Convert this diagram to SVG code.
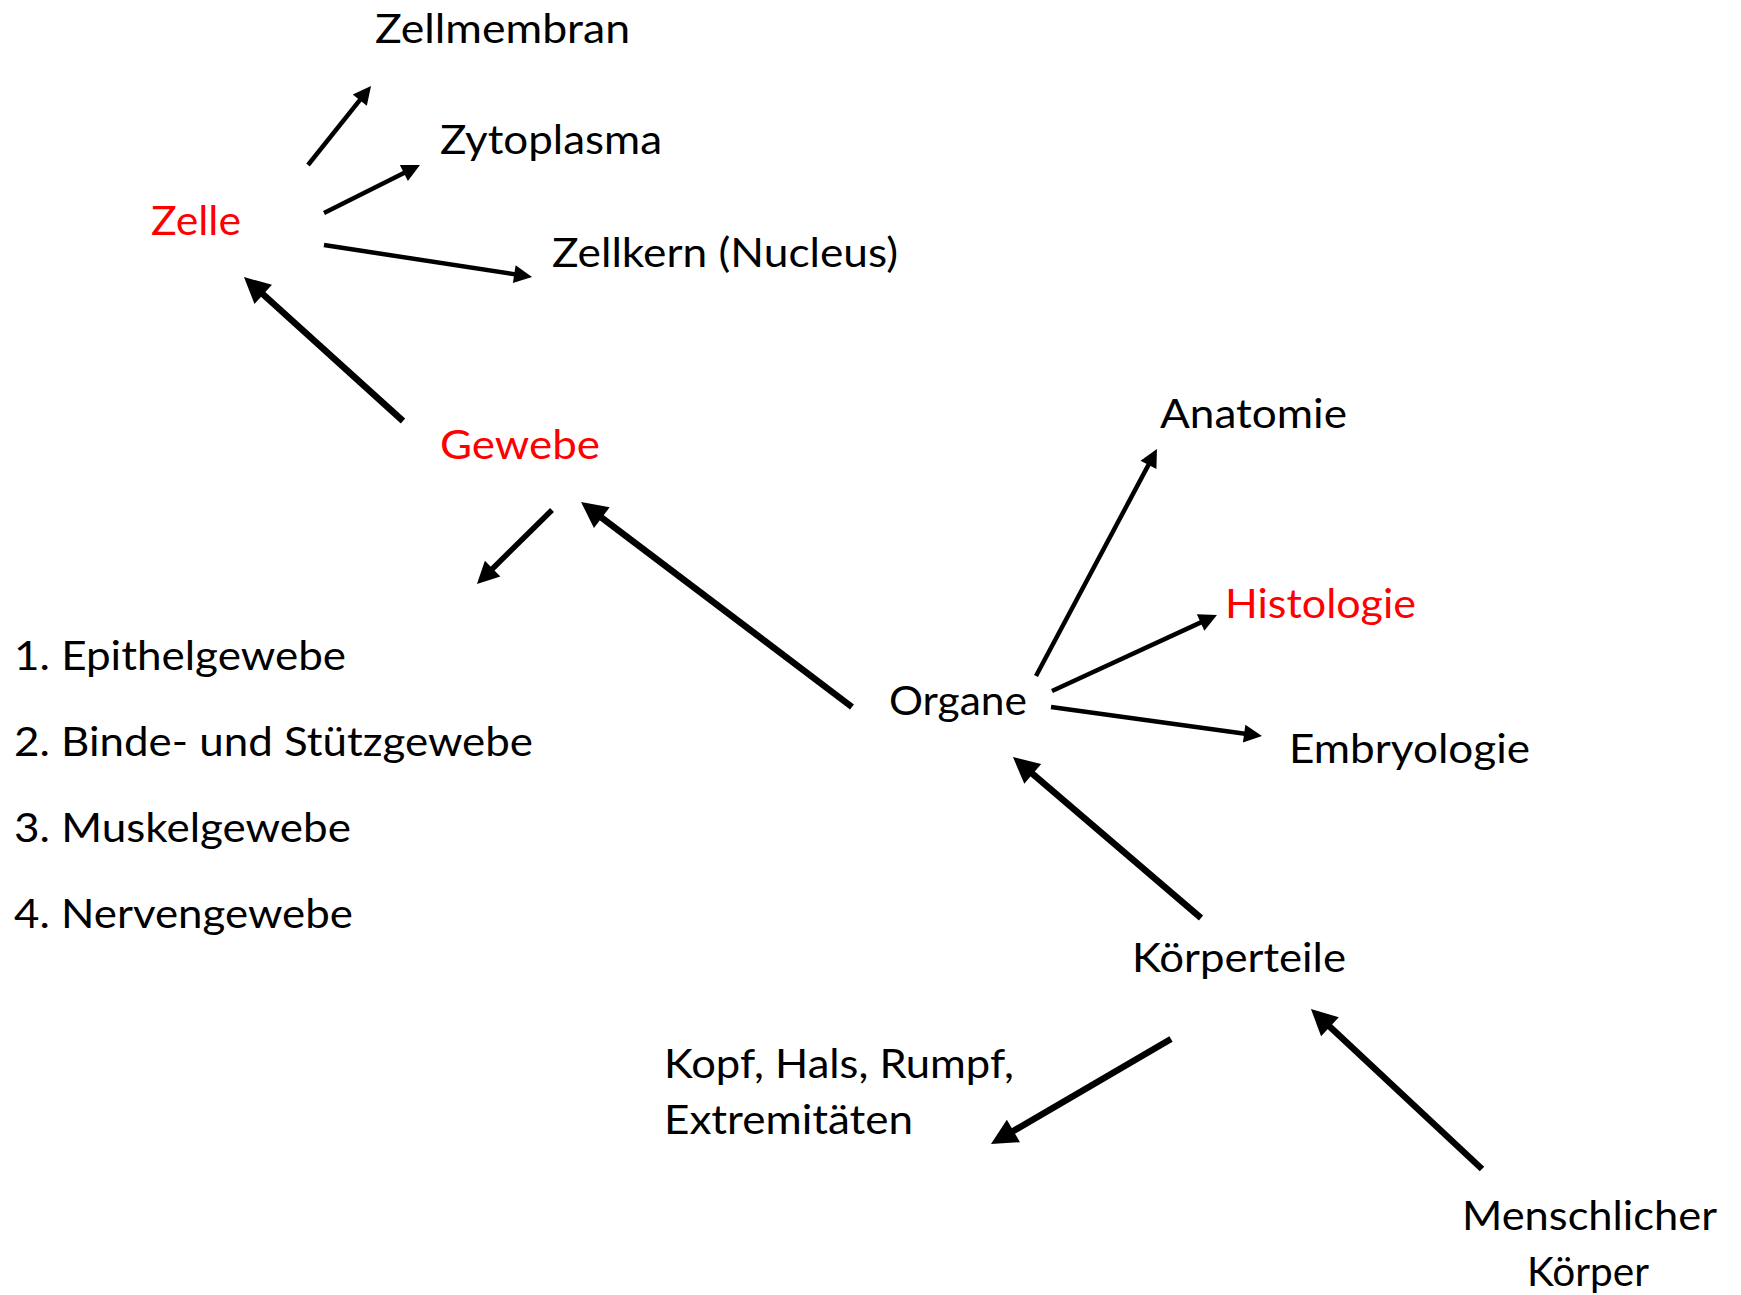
<svg xmlns="http://www.w3.org/2000/svg" width="1741" height="1295" viewBox="0 0 1741 1295">
<style>
text{font-family:Lato,"Liberation Sans",sans-serif;font-size:41px;fill:#000}
.red{fill:#ff0000}
.c{stroke:#000;fill:none;stroke-linecap:butt}
.s4{stroke-width:4.5;marker-end:url(#ah)}
.s5{stroke-width:5.5;marker-end:url(#ah)}
.s6{stroke-width:6.5;marker-end:url(#ah)}
</style>
<defs>
<marker id="ah" markerUnits="strokeWidth" markerWidth="4" markerHeight="4" viewBox="0 0 4 4" refX="1" refY="2" orient="auto" overflow="visible">
<path d="M0,0 L4,2 L0,4 z" fill="#000"/>
</marker>
</defs>
<rect width="1741" height="1295" fill="#fff"/>
<g id="connectors">
<line class="c s4" x1="308" y1="165" x2="362.6" y2="96.6"/>
<line class="c s4" x1="324" y1="213" x2="407.9" y2="171"/>
<line class="c s4" x1="324" y1="245" x2="518.7" y2="274.9"/>
<line class="c s6" x1="403" y1="421" x2="258.4" y2="290.1"/>
<line class="c s5" x1="552" y1="510" x2="488.7" y2="572.5"/>
<line class="c s6" x1="852" y1="707" x2="596.6" y2="513.8"/>
<line class="c s4" x1="1036" y1="676" x2="1150.6" y2="460.9"/>
<line class="c s4" x1="1052" y1="691" x2="1204.7" y2="620.6"/>
<line class="c s4" x1="1051" y1="707" x2="1248.6" y2="734.2"/>
<line class="c s6" x1="1201" y1="918" x2="1027.8" y2="769.7"/>
<line class="c s6" x1="1171" y1="1039" x2="1007.8" y2="1134.2"/>
<line class="c s6" x1="1482" y1="1169" x2="1325.2" y2="1022.3"/>
</g>
<g id="zellmembran"><text x="375" y="43" textLength="255" lengthAdjust="spacingAndGlyphs">Zellmembran</text></g>
<g id="zytoplasma"><text x="440" y="154" textLength="222" lengthAdjust="spacingAndGlyphs">Zytoplasma</text></g>
<g id="zelle"><text class="red" x="151" y="235" textLength="90" lengthAdjust="spacingAndGlyphs">Zelle</text></g>
<g id="zellkern"><text x="552" y="267" textLength="346" lengthAdjust="spacingAndGlyphs">Zellkern (Nucleus)</text></g>
<g id="gewebe"><text class="red" x="440" y="459" textLength="160" lengthAdjust="spacingAndGlyphs">Gewebe</text></g>
<g id="gewebearten">
<text x="14" y="670" textLength="332" lengthAdjust="spacingAndGlyphs">1. Epithelgewebe</text>
<text x="14" y="756" textLength="519" lengthAdjust="spacingAndGlyphs">2. Binde- und Stützgewebe</text>
<text x="14" y="842" textLength="337" lengthAdjust="spacingAndGlyphs">3. Muskelgewebe</text>
<text x="14" y="928" textLength="339" lengthAdjust="spacingAndGlyphs">4. Nervengewebe</text>
</g>
<g id="anatomie"><text x="1160" y="428" textLength="187" lengthAdjust="spacingAndGlyphs">Anatomie</text></g>
<g id="histologie"><text class="red" x="1225" y="618" textLength="191" lengthAdjust="spacingAndGlyphs">Histologie</text></g>
<g id="organe"><text x="889" y="715" textLength="138" lengthAdjust="spacingAndGlyphs">Organe</text></g>
<g id="embryologie"><text x="1289" y="763" textLength="241" lengthAdjust="spacingAndGlyphs">Embryologie</text></g>
<g id="koerperteile"><text x="1132" y="972" textLength="214" lengthAdjust="spacingAndGlyphs">Körperteile</text></g>
<g id="kopf">
<text x="664" y="1078" textLength="350" lengthAdjust="spacingAndGlyphs">Kopf, Hals, Rumpf,</text>
<text x="664" y="1134" textLength="249" lengthAdjust="spacingAndGlyphs">Extremitäten</text>
</g>
<g id="menschlicher-koerper">
<text x="1462" y="1230" textLength="255" lengthAdjust="spacingAndGlyphs">Menschlicher</text>
<text x="1527" y="1286" textLength="122" lengthAdjust="spacingAndGlyphs">Körper</text>
</g>
</svg>
